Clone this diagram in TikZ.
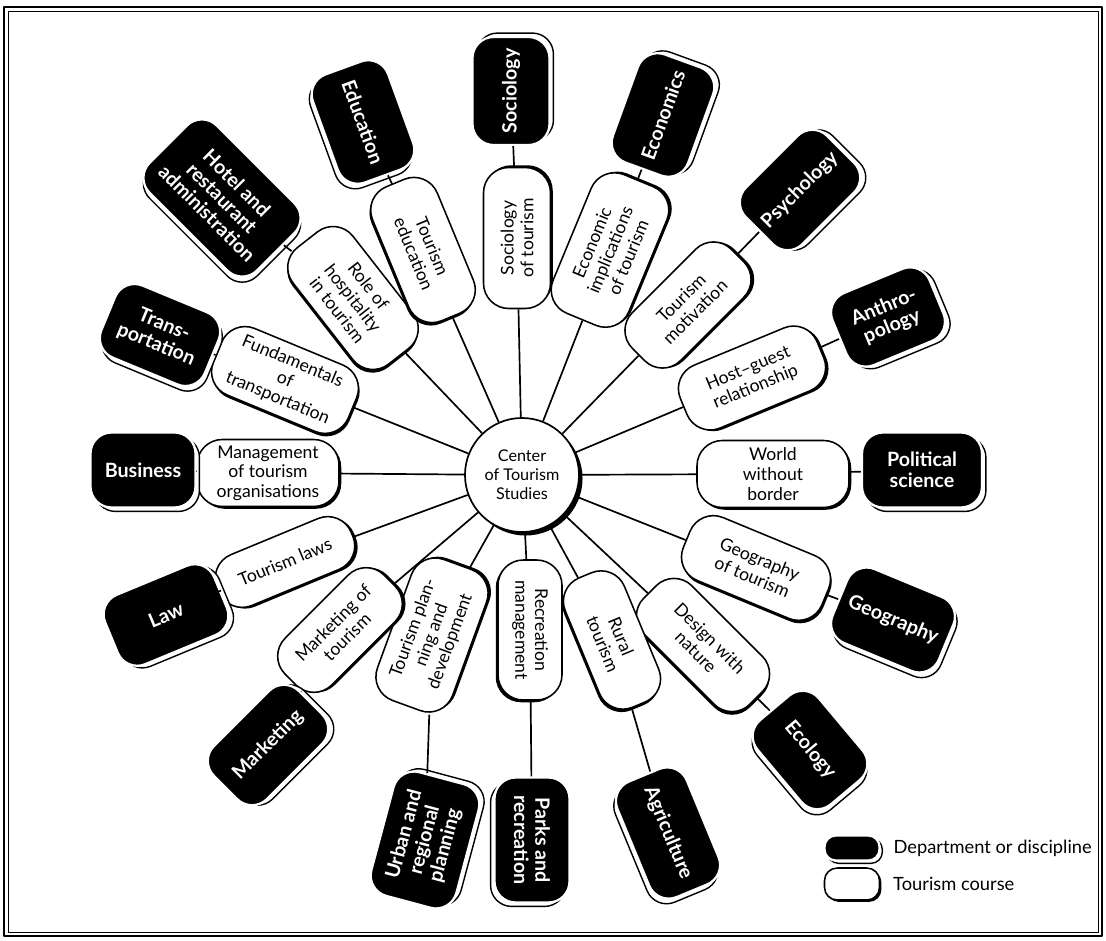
\documentclass[tikz,border=0pt]{standalone}
\usepackage{fontspec}
\setmainfont{Lato}
\usetikzlibrary{calc}
\usetikzlibrary{positioning}

\newcommand{\pxu}{0.025cm}

\tikzset{
  course/.style={draw, line width=1.1pt, fill=white, rounded corners=18pt, align=center,
    inner sep=1pt, font=\fontsize{12.5}{14}\selectfont},
  course shade/.style={fill=black, rounded corners=18pt, inner sep=0pt},
  dept/.style={fill=black, draw=white, line width=1.6pt, rounded corners=15pt, text=white,
    align=center, inner sep=1pt, font=\bfseries\fontsize{14}{15}\selectfont},
  dept shade/.style={draw=black, line width=1pt, fill=white, rounded corners=15pt, inner sep=0pt},
  spoke/.style={line width=1.2pt}
}

\begin{document}
\begin{tikzpicture}[x=0.025cm, y=-0.025cm, line join=round]
\useasboundingbox (0,0) rectangle (1106,941);

% frame
\draw[line width=1.6pt] (4,7) rectangle (1102,936);
\draw[line width=0.6pt] (8,11) rectangle (1098,932);

% centre
\fill ($(522,475)+(2.5pt,-2.5pt)$) circle (1.425cm);
\node [circle, draw, fill=white, line width=1.2pt, minimum size=2.85cm, inner sep=0pt,
  align=center, font=\fontsize{11.5}{13.5}\selectfont] (centre) at (522,475)
  {Center\\of Tourism\\Studies};

% tourism courses
\foreach \x/\y/\rot/\len/\wid/\txt [count=\i] in {
  517/238/90/141/67/{Sociology\\of tourism},
  610/250/67.5/150/82/{Economic\\implications\\of tourism},
  688/305/45/140/68/{Tourism\\motivation},
  752/378/22.5/148/68/{Host--guest\\relationship},
  773/474/0/152/67/{World\\without\\border},
  756/568/-22.5/150/68/{Geography\\of tourism},
  703/645/-45/150/68/{Design with\\nature},
  612/640/-67.5/140/64/{Rural\\tourism},
  530/630/-90/140/64/{Recreation\\management},
  432/635/70/150/80/{Tourism plan-\\ning and\\development},
  340/630/45/140/66/{Marketing of\\tourism},
  285/562/22.5/145/55/{Tourism laws},
  268/473/0/142/67/{Management\\of tourism\\organisations},
  285/380/-22.5/146/72/{Fundamentals\\of\\transportation},
  353/298/-52/148/76/{Role of\\hospitality\\in tourism},
  423/250/-67.5/145/70/{Tourism\\education}}
{
  \node [course shade, rotate=\rot, minimum width=\len*\pxu, minimum height=\wid*\pxu]
    at ($(\x,\y)+(\rot:1.6pt)+(\rot-90:1.6pt)$) {};
  \node [course, rotate=\rot, minimum width=\len*\pxu, minimum height=\wid*\pxu]
    (course-\i) at (\x,\y) {\txt};
}

% departments
\foreach \x/\y/\rot/\len/\wid/\txt [count=\i] in {
  511/91/90/108/77/{Sociology},
  663/115/70/115/80/{Economics},
  800/190/45/115/80/{Psychology},
  888/317/22.5/105/78/{Anthro-\\pology},
  922/470/0/120/75/{Political\\science},
  893/620/-22.5/115/80/{Geography},
  810/750/-50/110/80/{Ecology},
  668/833/-67.5/125/75/{Agriculture},
  532/840/-90/125/75/{Parks and\\recreation},
  425/840/75/128/88/{Urban and\\regional\\planning},
  268/745/45/120/75/{Marketing},
  166/615/22.5/118/75/{Law},
  143/470/0/105/75/{Business},
  160/335/-22.5/112/78/{Trans-\\portation},
  222/198/-45/152/95/{Hotel and\\restaurant\\administration},
  363/122/-70/115/80/{Education}}
{
  \node [dept shade, rotate=\rot, minimum width=\len*\pxu, minimum height=\wid*\pxu]
    at ($(\x,\y)+(\rot:2.8pt)+(\rot-90:2.8pt)$) {};
  \node [dept, rotate=\rot, minimum width=\len*\pxu, minimum height=\wid*\pxu]
    (dept-\i) at (\x,\y) {\txt};
}

\foreach \i in {1,...,16}
  \draw [spoke] (centre) -- (course-\i) -- (dept-\i);

% legend
\node [dept shade, rounded corners=8pt, minimum width=55*\pxu, minimum height=25*\pxu]
  at ($(852,848)+(2pt,-2pt)$) {};
\node [dept, rounded corners=8pt, minimum width=55*\pxu, minimum height=25*\pxu]
  (leg-dept) at (852,848) {};
\node [course shade, rounded corners=9pt, minimum width=55*\pxu, minimum height=32*\pxu]
  at ($(852,884)+(1.4pt,-1.4pt)$) {};
\node [course, rounded corners=9pt, minimum width=55*\pxu, minimum height=32*\pxu]
  (leg-course) at (852,884) {};
\node [right=9pt of leg-dept, inner sep=0pt, font=\fontsize{13}{15}\selectfont] (leg-dept-text)
  {Department or discipline};
\node [right=9pt of leg-course, inner sep=0pt, font=\fontsize{13}{15}\selectfont] (leg-course-text)
  {Tourism course};

\end{tikzpicture}
\end{document}
